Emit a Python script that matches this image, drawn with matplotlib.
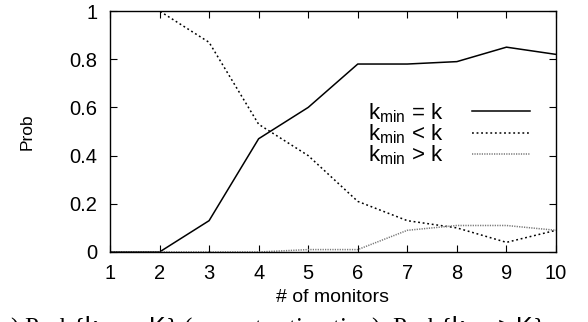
import matplotlib
matplotlib.use('Agg')
import matplotlib.pyplot as plt

plt.rcParams['font.family'] = ['Liberation Sans', 'DejaVu Sans']
plt.rcParams['mathtext.fontset'] = 'custom'
plt.rcParams['mathtext.rm'] = 'Liberation Sans'
plt.rcParams['mathtext.it'] = 'Liberation Sans'

# data
monitors = [1, 2, 3, 4, 5, 6, 7, 8, 9, 10]
p_equal = [0, 0, 0.13, 0.47, 0.60, 0.78, 0.78, 0.79, 0.85, 0.82]
p_less = [1, 1, 0.87, 0.53, 0.40, 0.21, 0.13, 0.10, 0.04, 0.09]
p_more = [0, 0, 0, 0, 0.01, 0.01, 0.09, 0.11, 0.11, 0.09]
labels = ['k$_{\\rm min}$ = k', 'k$_{\\rm min}$ < k', 'k$_{\\rm min}$ > k']

fig = plt.figure(figsize=(5.88, 3.22), dpi=100)
ax = fig.add_axes([0.187, 0.2174, 0.7586, 0.7484])

ax.plot(monitors, p_equal, color='black', lw=1.1, label=labels[0])
ax.plot(monitors, p_less, color='black', lw=1.1, linestyle=(0, (1.2, 1.8)), label=labels[1])
ax.plot(monitors, p_more, color='#777777', lw=1.1, linestyle=(0, (0.8, 0.8)), label=labels[2])

ax.set_xlim(1, 10)
ax.set_ylim(0, 1)
ax.set_xticks(monitors)
ax.set_yticks([0, 0.2, 0.4, 0.6, 0.8, 1])
ax.set_yticklabels(['0', '0.2', '0.4', '0.6', '0.8', '1'])
ax.tick_params(direction='in', top=True, right=True, length=5, labelsize=14.5, pad=9)
for s in ax.spines.values():
    s.set_linewidth(1.0)

ax.set_xlabel('# of monitors', fontsize=14, labelpad=4)
ax.set_ylabel('Prob', fontsize=12.5, labelpad=25)

ax.legend(loc='upper right', bbox_to_anchor=(0.966, 0.673), frameon=False,
          markerfirst=False, fontsize=16, handlelength=2.6, labelspacing=-0.1,
          handletextpad=1.26, borderpad=0)

# figure caption, cut off by the lower edge like in the original
fig.text(-0.016, -0.039,
         '(a) Prob{$\\it{k}_{min} = K$} (correct estimation), Prob{$\\it{k}_{min} > K$}',
         fontsize=18, family='Liberation Serif', va='baseline')

fig.savefig('out.png', dpi=100)
